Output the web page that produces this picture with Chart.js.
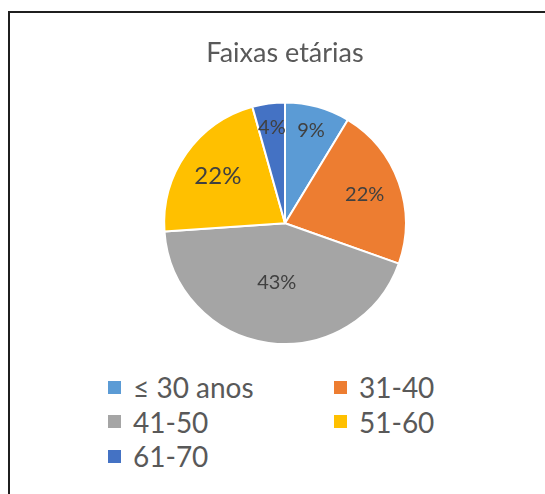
<!DOCTYPE html>
<html>
<head>
<meta charset="utf-8">
<title>Faixas etárias</title>
<script src="https://cdn.jsdelivr.net/npm/chart.js@4.4.0/dist/chart.umd.min.js"></script>
<style>
  body { margin: 0; background: #fff; width: 545px; height: 494px; overflow: hidden; position: relative; font-family: Lato, "Open Sans", sans-serif; }
  .moldura { position: absolute; left: 8px; top: 11px; width: 545px; height: 494px; border-top: 2px solid #1f1f1f; border-left: 2px solid #1f1f1f; }
  .grafico { position: absolute; left: 45px; top: 20px; width: 480px; height: 325px; }
  #legenda { position: absolute; left: 108px; top: 370px; margin: 0; padding: 0; list-style: none;
             display: grid; grid-template-columns: 226px 120px; row-gap: 0; }
  #legenda li { display: flex; align-items: center; height: 34.5px; font-size: 28px; color: #595959; white-space: nowrap; }
  #legenda li span { display: inline-block; width: 13px; height: 13px; margin-right: 12px; }
</style>
</head>
<body>
<div class="moldura"></div>
<div class="grafico"><canvas id="grafico-idade"></canvas></div>
<ul id="legenda"></ul>

<script>
  // Dados (quantidade por faixa etária)
  const faixas = ['≤ 30 anos', '31-40', '41-50', '51-60', '61-70'];
  const quantidades = [2, 5, 10, 5, 1];
  const rotulos = ['9%', '22%', '43%', '22%', '4%'];
  const cores = ['#5B9BD5', '#ED7D31', '#A5A5A5', '#FFC000', '#4472C4'];

  // Rótulos de porcentagem desenhados dentro das fatias
  const rotulosFatias = {
    id: 'rotulosFatias',
    afterDatasetsDraw(chart, args, opts) {
      const ctx = chart.ctx;
      const meta = chart.getDatasetMeta(0);
      meta.data.forEach((arco, i) => {
        const p = arco.getProps(['x', 'y', 'startAngle', 'endAngle', 'outerRadius']);
        const meio = (p.startAngle + p.endAngle) / 2;
        const r = p.outerRadius * opts.distancia[i];
        ctx.save();
        ctx.font = opts.tamanho[i] + 'px Lato, "Open Sans", sans-serif';
        ctx.fillStyle = '#404040';
        ctx.textAlign = 'center';
        ctx.textBaseline = 'middle';
        ctx.fillText(rotulos[i], p.x + Math.cos(meio) * r, p.y + Math.sin(meio) * r);
        ctx.restore();
      });
    }
  };

  const grafico = new Chart(document.getElementById('grafico-idade'), {
    type: 'pie',
    data: {
      labels: faixas,
      datasets: [{
        data: quantidades,
        backgroundColor: cores,
        borderColor: '#ffffff',
        borderWidth: 2,
        hoverOffset: 0
      }]
    },
    options: {
      responsive: true,
      maintainAspectRatio: false,
      animation: false,
      events: [],
      layout: { padding: 0 },
      plugins: {
        legend: { display: false },
        tooltip: { enabled: false },
        title: {
          display: true,
          text: 'Faixas etárias',
          color: '#595959',
          font: { family: 'Lato, "Open Sans", sans-serif', size: 27, weight: 'normal', lineHeight: 1.2 },
          padding: { top: 17, bottom: 32 }
        },
        rotulosFatias: {
          distancia: [0.8, 0.7, 0.5, 0.68, 0.8],
          tamanho: [20, 20, 20, 24, 20]
        }
      }
    },
    plugins: [rotulosFatias]
  });

  // Legenda em HTML (duas colunas)
  const legenda = document.getElementById('legenda');
  grafico.options.plugins.legend.labels.generateLabels(grafico).forEach(item => {
    const li = document.createElement('li');
    li.innerHTML = `<span style="background:${item.fillStyle}"></span>${item.text}`;
    legenda.appendChild(li);
  });
</script>
</body>
</html>
